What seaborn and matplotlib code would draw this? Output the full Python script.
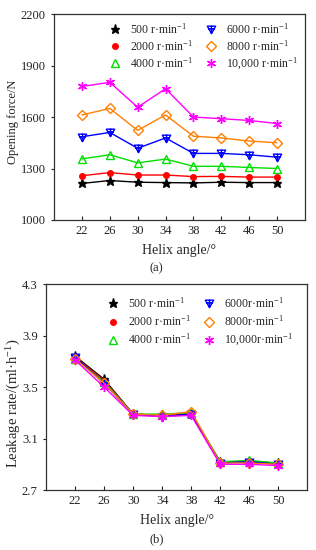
import numpy as np
import pandas as pd
import matplotlib
matplotlib.use("Agg")
import matplotlib.pyplot as plt
from matplotlib.path import Path
from matplotlib.lines import Line2D
import seaborn as sns

# -----------------------------
# data
# -----------------------------
helix_angle = [22, 26, 30, 34, 38, 42, 46, 50]
speeds = ["500", "2000", "4000", "6000", "8000", "10000"]

force_500 = [1213, 1230, 1220, 1218, 1216, 1220, 1218, 1218]
force_2000 = [1258, 1276, 1262, 1262, 1253, 1254, 1250, 1250]
force_4000 = [1356, 1380, 1333, 1355, 1313, 1313, 1306, 1300]
force_6000 = [1485, 1510, 1418, 1478, 1388, 1388, 1380, 1366]
force_8000 = [1612, 1650, 1522, 1612, 1488, 1478, 1460, 1450]
force_10000 = [1778, 1802, 1657, 1765, 1600, 1590, 1580, 1562]

leak_500 = [3.74, 3.56, 3.29, 3.28, 3.29, 2.92, 2.92, 2.91]
leak_2000 = [3.73, 3.55, 3.29, 3.28, 3.30, 2.92, 2.92, 2.91]
leak_4000 = [3.72, 3.54, 3.29, 3.29, 3.30, 2.92, 2.93, 2.91]
leak_6000 = [3.73, 3.53, 3.29, 3.27, 3.29, 2.91, 2.92, 2.90]
leak_8000 = [3.72, 3.53, 3.29, 3.28, 3.31, 2.91, 2.91, 2.90]
leak_10000 = [3.71, 3.50, 3.28, 3.27, 3.28, 2.90, 2.90, 2.89]

labels_a = ["500 r·min$^{-1}$", "2000 r·min$^{-1}$", "4000 r·min$^{-1}$",
            "6000 r·min$^{-1}$", "8000 r·min$^{-1}$", "10,000 r·min$^{-1}$"]
labels_b = ["500 r·min$^{-1}$", "2000 r·min$^{-1}$", "4000 r·min$^{-1}$",
            "6000r·min$^{-1}$", "8000r·min$^{-1}$", "10,000r·min$^{-1}$"]

force_ticks = [1000, 1300, 1600, 1900, 2200]
leak_ticks = [2.7, 3.1, 3.5, 3.9, 4.3]

# -----------------------------
# long-form tables
# -----------------------------
force_df = pd.DataFrame({
    "angle": helix_angle * 6,
    "speed": np.repeat(speeds, len(helix_angle)),
    "value": force_500 + force_2000 + force_4000 + force_6000 + force_8000 + force_10000,
})
leak_df = pd.DataFrame({
    "angle": helix_angle * 6,
    "speed": np.repeat(speeds, len(helix_angle)),
    "value": leak_500 + leak_2000 + leak_4000 + leak_6000 + leak_8000 + leak_10000,
})

# -----------------------------
# style
# -----------------------------
sns.set_theme(style="ticks")
plt.rcParams["font.family"] = ["Liberation Serif", "DejaVu Serif"]
plt.rcParams["mathtext.fontset"] = "custom"
plt.rcParams["mathtext.rm"] = "Liberation Serif"
plt.rcParams["mathtext.it"] = "Liberation Serif:italic"

# down triangle with a cross inside (Origin style)
tri_cross = Path(
    [(-1, 0.8), (1, 0.8), (0, -1), (-1, 0.8), (0, 0.9), (0, -1.0), (-0.75, 0.15), (0.75, 0.15)],
    [Path.MOVETO, Path.LINETO, Path.LINETO, Path.CLOSEPOLY,
     Path.MOVETO, Path.LINETO, Path.MOVETO, Path.LINETO],
)

colors = ["black", "#ff0000", "#00e000", "#0000ff", "#ff8000", "#ff00ff"]
markers = ["*", "o", "^", tri_cross, "D", (6, 2, 0)]
sizes = [6.5, 4, 5.5, 6, 5, 6.5]
filled = [True, True, False, False, False, True]

fig = plt.figure(figsize=(3.16, 5.5), dpi=100)
ax_a = fig.add_axes([0.171, 0.600, 0.794, 0.3745])
ax_b = fig.add_axes([0.146, 0.109, 0.826, 0.3745])


def draw(ax, df, labels, anchor, spacing):
    handles = []
    for i, sp in enumerate(speeds):
        sub = df[df["speed"] == sp]
        face = colors[i] if filled[i] else "none"
        sns.lineplot(data=sub, x="angle", y="value", ax=ax, color=colors[i],
                     marker=markers[i], markersize=sizes[i], markerfacecolor=face,
                     markeredgecolor=colors[i], markeredgewidth=1.0, linewidth=1.0,
                     legend=False)
        handles.append(Line2D([], [], linestyle="none", marker=markers[i], color=colors[i],
                              markersize=sizes[i], markerfacecolor=face,
                              markeredgecolor=colors[i], markeredgewidth=1.0))
    ax.legend(handles, labels, ncol=2, loc="upper right", bbox_to_anchor=anchor,
              frameon=False, fontsize=8.5, handletextpad=0.7, columnspacing=0.9,
              labelspacing=spacing, borderaxespad=0.0, handlelength=1.2)
    ax.set_xlim(18, 54)
    ax.set_xticks(helix_angle)
    ax.tick_params(axis="x", direction="in", length=3, width=0.8, labelsize=9, colors="#222222")
    ax.tick_params(axis="y", direction="out", length=2.5, width=0.8, labelsize=9, colors="#222222")
    for s in ax.spines.values():
        s.set_linewidth(0.9)
        s.set_color("#333333")
    ax.set_xlabel("Helix angle/°", fontsize=10, labelpad=5)


draw(ax_a, force_df, labels_a, (0.99, 0.985), 0.2)
ax_a.set_ylim(1000, 2200)
ax_a.set_yticks(force_ticks)
ax_a.set_ylabel("Opening force/N", fontsize=9)
ax_a.yaxis.set_label_coords(-0.14, 0.475)

draw(ax_b, leak_df, labels_b, (0.965, 0.965), 0.3)
ax_b.set_ylim(2.7, 4.3)
ax_b.set_yticks(leak_ticks)
ax_b.set_yticklabels([f"{t:.1f}" for t in leak_ticks])
ax_b.set_ylabel("Leakage rate/(ml·h$^{-1}$)", fontsize=10.5)
ax_b.yaxis.set_label_coords(-0.09, 0.42)

fig.text(0.495, 0.512, "(a)", ha="center", va="center", fontsize=9)
fig.text(0.497, 0.020, "(b)", ha="center", va="center", fontsize=9)

fig.savefig("out.png", dpi=100)
